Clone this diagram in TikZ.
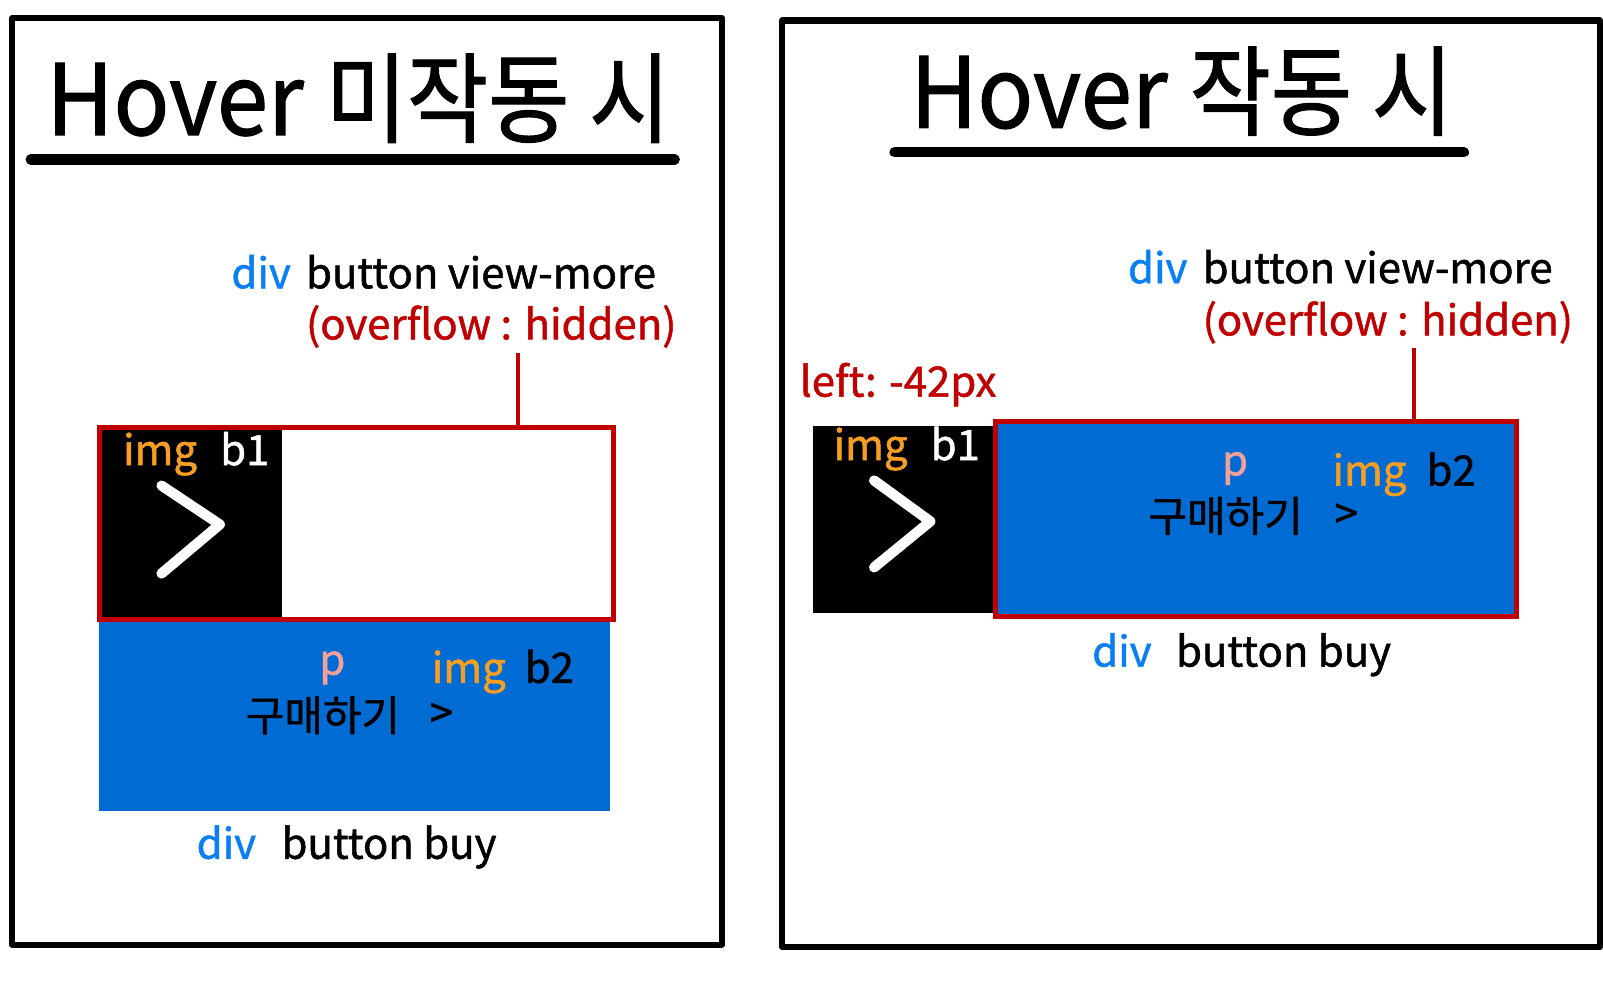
\documentclass[tikz,border=0pt]{standalone}
\usepackage{fontspec}
\setmainfont{Noto Sans CJK KR}[FakeBold=1.2]
\usepackage{graphicx}
\definecolor{divblue}{HTML}{0A7EF5}
\definecolor{boxblue}{HTML}{006BD3}
\definecolor{cssred}{HTML}{C00000}
\definecolor{imgorange}{HTML}{F59E22}
\definecolor{ppink}{HTML}{F4A09A}
\tikzset{
  frame/.style={draw=black,line width=3pt,line join=round},
  uline/.style={line width=5pt,line cap=round},
  title/.style={font=\fontsize{48}{48}\selectfont,anchor=base west,inner sep=0pt},
  lbl/.style={font=\fontsize{20.5}{20.5}\selectfont,anchor=base west,inner sep=0pt},
  redbox/.style={draw=cssred,line width=2.5pt},
  redline/.style={draw=cssred,line width=2pt},
  chev/.style={draw=white,line width=5pt,line cap=round,line join=round},
}
\newcommand{\hv}{\scalebox{0.94}[1]{Hover}}
\newcommand{\kt}[1]{\scalebox{0.9}[1]{#1}}
\begin{document}
\begin{tikzpicture}[x=0.5pt,y=-0.5pt]
\useasboundingbox (0,0) rectangle (1568,978);
\fill[white] (0,0) rectangle (1568,978);
% ---------- left panel ----------
\draw[frame] (12,18) rectangle (706,924);
\node[title] (t1) at (45,132) {\hv\ \kt{미작동 시}};
\coordinate (u1a) at (30,156); \coordinate (u1b) at (660,156);
\draw[uline] (u1a) -- (u1b);
\node[lbl,text=divblue] (d1) at (226,282) {div};
\node[lbl] (bv1) at (299,282) {button view-more};
\node[lbl,text=cssred] (o1) at (299,332) {(overflow : hidden)};
\fill[boxblue] (97,606) rectangle (597,793);
\fill[black] (97,418) rectangle (276,606);
\draw[redbox] (97,418) rectangle (600,606);
\coordinate (r1top) at (507,418); \coordinate (r1lbl) at (507,345);
\draw[redline] (r1lbl) -- (r1top);
\node[lbl,text=imgorange] (i1) at (120,455) {img};
\node[lbl,text=white] (b1a) at (215,455) {b1};
\coordinate (c1a) at (158,475); \coordinate (c1b) at (215,513); \coordinate (c1c) at (158,561);
\draw[chev] (c1a) -- (c1b) -- (c1c);
\node[lbl,text=ppink] (p1) at (312,660) {p};
\node[lbl,text=imgorange] (i2) at (422,668) {img};
\node[lbl] (b2a) at (513,668) {b2};
\node[lbl] (k1) at (240,715) {구매하기};
\node[lbl] (g1) at (420,712) {>};
\node[lbl,text=divblue] (d2) at (192,840) {div};
\node[lbl] (bb1t) at (275,840) {button buy};
% ---------- right panel ----------
\draw[frame] (765,20) rectangle (1565,926);
\node[title] (t2) at (890,125) {\hv\ \kt{작동 시}};
\coordinate (u2a) at (875,149); \coordinate (u2b) at (1432,149);
\draw[uline] (u2a) -- (u2b);
\node[lbl,text=divblue] (d3) at (1103,277) {div};
\node[lbl] (bv2) at (1176,277) {button view-more};
\node[lbl,text=cssred] (o2) at (1176,328) {(overflow : hidden)};
\node[lbl,text=cssred] (l2) at (782,388) {left: -42px};
\fill[black] (795,417) rectangle (975,600);
\fill[boxblue] (974,412) rectangle (1483,603);
\draw[redbox] (974,412) rectangle (1483,603);
\coordinate (r2top) at (1383,412); \coordinate (r2lbl) at (1383,340);
\draw[redline] (r2lbl) -- (r2top);
\node[lbl,text=imgorange] (i3) at (815,450) {img};
\node[lbl,text=white] (b1b) at (910,450) {b1};
\coordinate (c2a) at (855,470); \coordinate (c2b) at (910,510); \coordinate (c2c) at (855,555);
\draw[chev] (c2a) -- (c2b) -- (c2c);
\node[lbl,text=ppink] (p2) at (1195,465) {p};
\node[lbl,text=imgorange] (i4) at (1303,475) {img};
\node[lbl] (b2b) at (1395,475) {b2};
\node[lbl] (k2) at (1123,520) {구매하기};
\node[lbl] (g2) at (1305,517) {>};
\node[lbl,text=divblue] (d4) at (1068,652) {div};
\node[lbl] (bb2t) at (1150,652) {button buy};
\end{tikzpicture}
\end{document}
